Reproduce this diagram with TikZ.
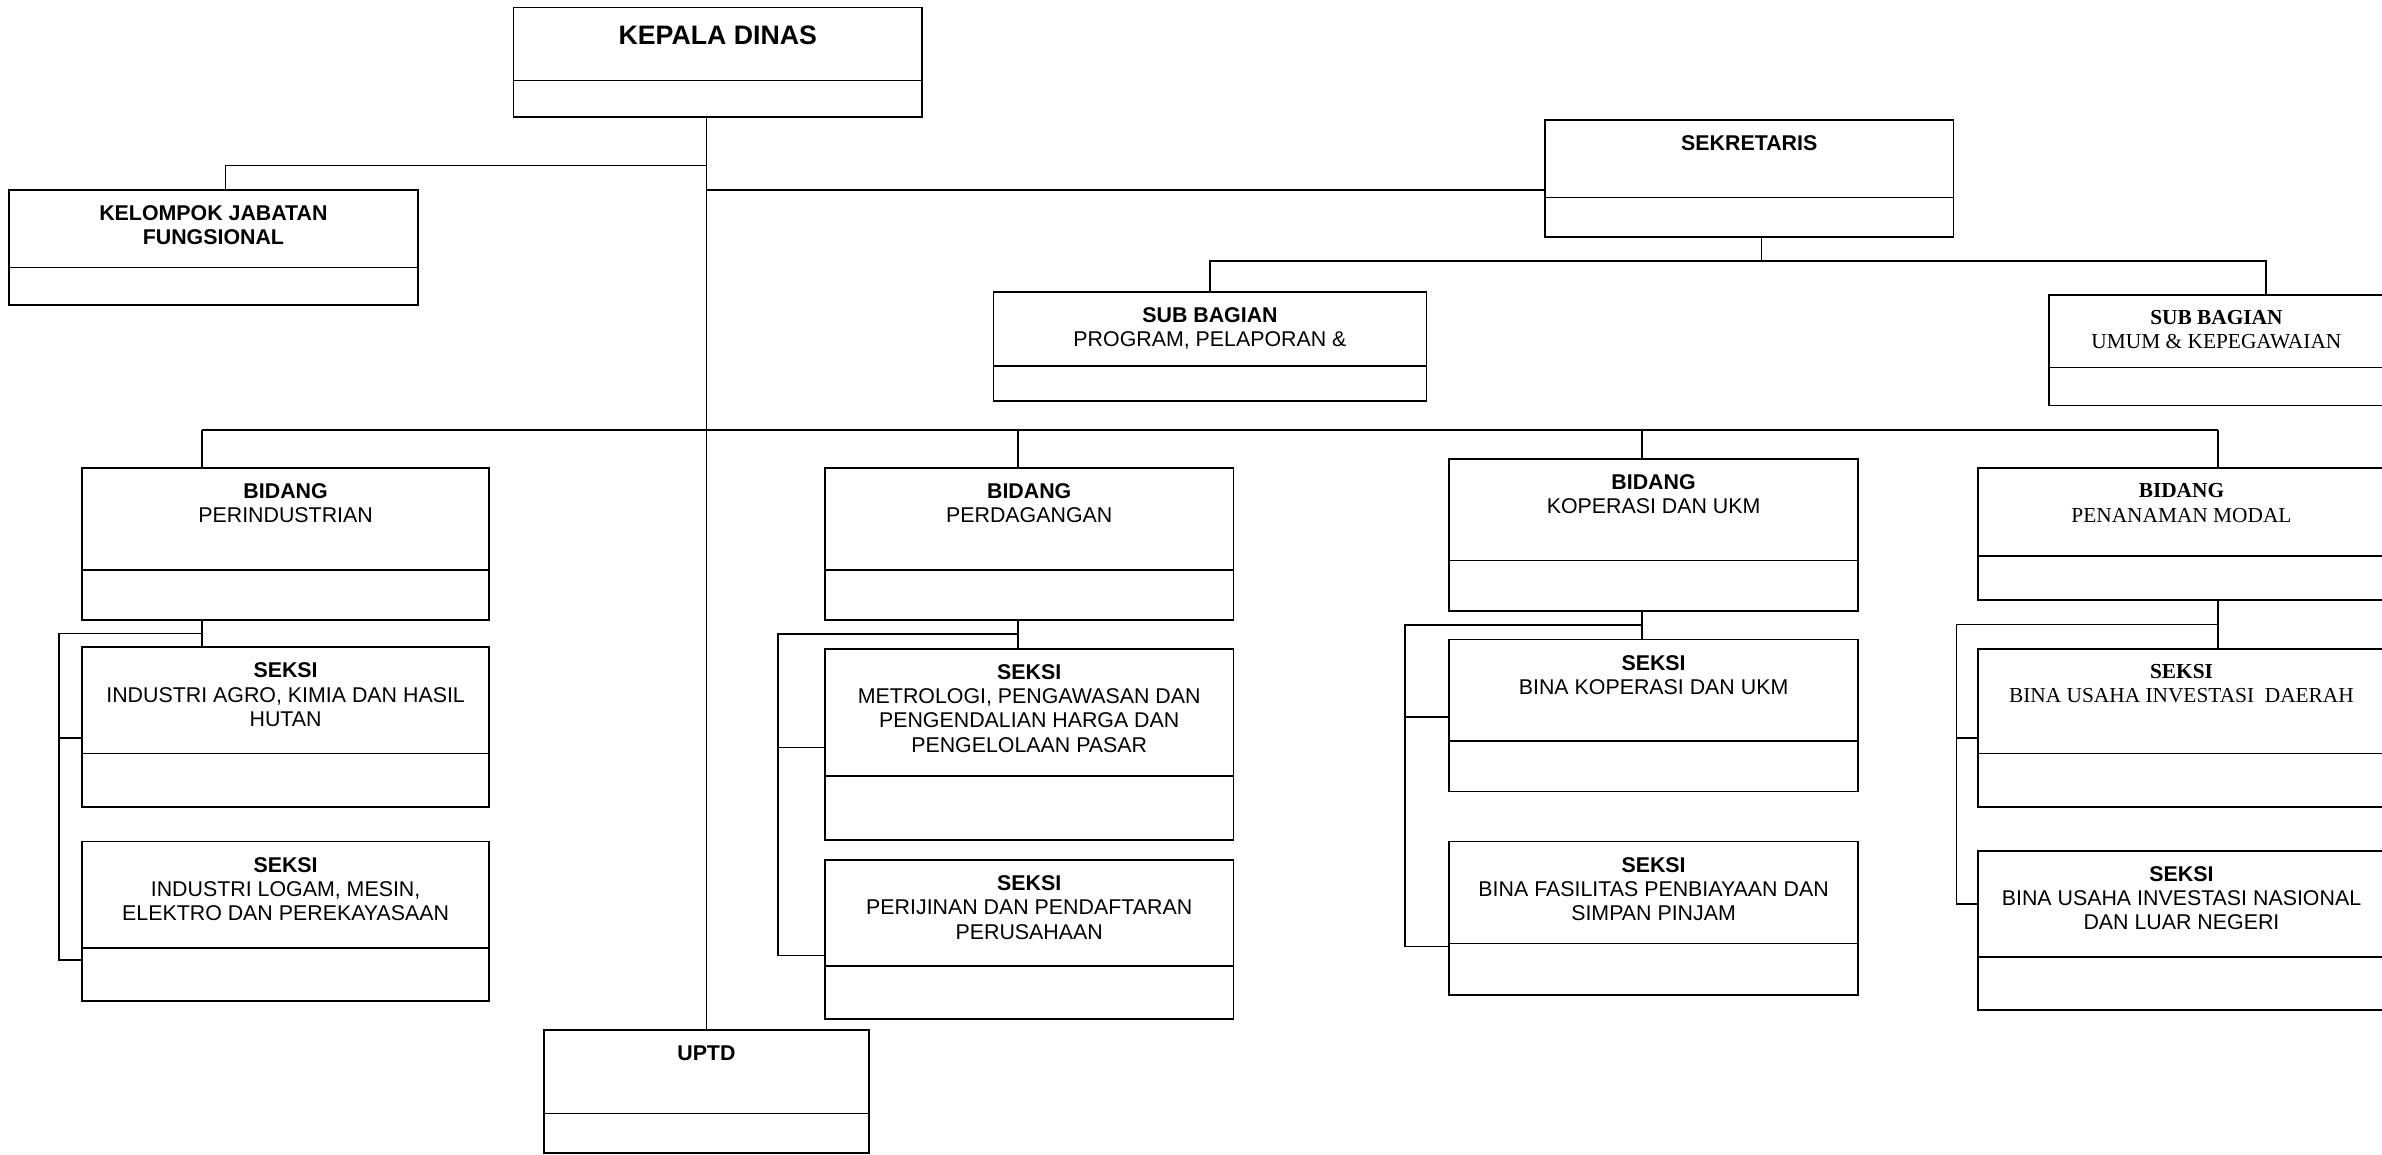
\documentclass[tikz,border=0pt]{standalone}
\usepackage{fontspec}
\setmainfont{Liberation Sans}
\newfontfamily\timesfont{Liberation Serif}
\usepackage{tikz}
\usetikzlibrary{calc}
\definecolor{ink}{HTML}{000000}
\def\orgpx{0.025cm}
\tikzset{
  unitbox/.style={draw=ink, line width=0.8pt, rectangle, anchor=north west, inner sep=0pt, outer sep=0pt},
  divline/.style={draw=ink, line width=0.8pt},
  link/.style={draw=ink, line width=0.75pt},
  txt/.style={text=ink, anchor=north, align=center, inner sep=0pt, font=\fontsize{10}{11.4}\selectfont},
  txtrm/.style={font=\timesfont\fontsize{10}{11.4}\selectfont},
  txtbig/.style={font=\bfseries\fontsize{12.5}{14}\selectfont, yshift=-2*\orgpx},
}
\newcommand{\orgunit}[7][]{%
  \node[unitbox, minimum width=#4*\orgpx, minimum height=#5*\orgpx] (#2) at (#3) {};
  \draw[divline] ($(#2.north west)+(0,#6)$) -- ($(#2.north east)+(0,#6)$);
  \node[txt,#1] (#2-t) at ($(#2.north)+(0,10)$) {#7};
}

\begin{document}
\begin{tikzpicture}[x=0.025cm, y=-0.025cm]
  \useasboundingbox (0,0) rectangle (1568,760);
  \orgunit[txtbig]{kd}{338,5}{269}{72}{48}{KEPALA DINAS}
  \orgunit{kjf}{6,125}{269}{76}{51}{\textbf{KELOMPOK JABATAN}\\\textbf{FUNGSIONAL}}
  \orgunit{sek}{1017,79}{269}{77}{51}{\textbf{SEKRETARIS}}
  \orgunit{sbp}{654,192}{285}{72}{49}{\textbf{SUB BAGIAN}\\PROGRAM, PELAPORAN \&}
  \orgunit[txtrm, xshift=-32.5*\orgpx]{sbu}{1349,194}{285}{73}{48}{\textbf{SUB BAGIAN}\\UMUM \& KEPEGAWAIAN}
  \orgunit{bpr}{54,308}{268}{100}{67}{\textbf{BIDANG}\\PERINDUSTRIAN}
  \orgunit{spr1}{54,426}{268}{105}{70}{\textbf{SEKSI}\\INDUSTRI AGRO, KIMIA DAN HASIL\\HUTAN}
  \orgunit{spr2}{54,554}{268}{105}{70}{\textbf{SEKSI}\\INDUSTRI LOGAM, MESIN,\\ELEKTRO DAN PEREKAYASAAN}
  \orgunit{bpd}{543,308}{269}{100}{67}{\textbf{BIDANG}\\PERDAGANGAN}
  \orgunit{spd1}{543,427}{269}{126}{84}{\textbf{SEKSI}\\METROLOGI, PENGAWASAN DAN\\PENGENDALIAN HARGA DAN\\PENGELOLAAN PASAR}
  \orgunit{spd2}{543,566}{269}{105}{70}{\textbf{SEKSI}\\PERIJINAN DAN PENDAFTARAN\\PERUSAHAAN}
  \orgunit{bkp}{954,302}{269}{100}{67}{\textbf{BIDANG}\\KOPERASI DAN UKM}
  \orgunit{skp1}{954,421}{269}{100}{67}{\textbf{SEKSI}\\BINA KOPERASI DAN UKM}
  \orgunit{skp2}{954,554}{269}{101}{67}{\textbf{SEKSI}\\BINA FASILITAS PENBIAYAAN DAN\\SIMPAN PINJAM}
  \orgunit[txtrm]{bpm}{1302,308}{268}{87}{58}{\textbf{BIDANG}\\PENANAMAN MODAL}
  \orgunit[txtrm]{spm1}{1302,427}{268}{104}{69}{\textbf{SEKSI}\\BINA USAHA INVESTASI\ \ DAERAH}
  \orgunit{spm2}{1302,560}{268}{105}{70}{\textbf{SEKSI}\\BINA USAHA INVESTASI NASIONAL\\DAN LUAR NEGERI}
  \orgunit{uptd}{358,678}{214}{81}{55}{\textbf{UPTD}}

  \coordinate (j-kjf) at (465,109);
  \coordinate (j-sek) at (465,125);
  \draw[link] (kd.south -| uptd.north) -- (uptd.north);
  \draw[link] (j-kjf) -| ($(kjf.north)+(8,0)$);
  \draw[link] (j-sek) -- (j-sek -| sek.west);
  \coordinate (d-sek) at ($(sek.south)+(8,0)$);
  \draw[link] (d-sek) -- ++(0,16) coordinate (h-sek);
  \draw[link] (sbp.north) |- (h-sek) -| (sbu.north);

  \foreach \n/\x in {bpr/133, bpd/670, bkp/1081, bpm/1460}
    \coordinate (d-\n) at (\x,283);
  \draw[link] (d-bpr) -- (d-bpm);
  \foreach \n in {bpr, bpd, bkp, bpm}
    \draw[link] (d-\n) -- (d-\n |- \n.north);

  \foreach \b/\s/\t/\g/\ya/\yb in {bpr/spr1/spr2/15/60/78, bpd/spd1/spd2/31/65/63, bkp/skp1/skp2/29/51/69, bpm/spm1/spm2/14/59/35}{
    \coordinate (m-\b) at ($(d-\b |- \b.south)!.5!(d-\b |- \s.north)$);
    \coordinate (a-\b) at ($(\s.north west)+(0,\ya)$);
    \coordinate (z-\b) at ($(\t.north west)+(0,\yb)$);
    \draw[link] (d-\b |- \b.south) -- (d-\b |- \s.north);
    \draw[link] (m-\b) -| ($(z-\b)+(-\g,0)$) -- (z-\b);
    \draw[link] ($(a-\b)+(-\g,0)$) -- (a-\b);
  }
\end{tikzpicture}
\end{document}
